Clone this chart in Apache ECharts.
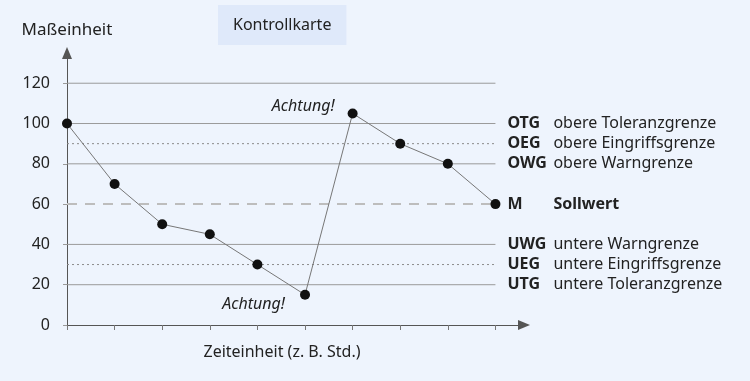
<!DOCTYPE html>
<html><head><meta charset="utf-8">
<script src="https://cdn.jsdelivr.net/npm/echarts@6/dist/echarts.min.js"></script>
<style>html,body{margin:0;padding:0;background:#eef4fd}#c{width:750px;height:381px}</style>
</head><body><div id="c"></div>
<script>
// ---- data ----
const timeIndex = [0, 1, 2, 3, 4, 5, 6, 7, 8, 9];
const measured = [100, 70, 50, 45, 30, 15, 105, 90, 80, 60];
const yTicks = [0, 20, 40, 60, 80, 100, 120];
const limitValues = [120, 100, 90, 80, 60, 40, 30, 20];
const limitCodes = ['', 'OTG', 'OEG', 'OWG', 'M', 'UWG', 'UEG', 'UTG'];
const limitNames = ['', 'obere Toleranzgrenze', 'obere Eingriffsgrenze', 'obere Warngrenze', 'Sollwert',
  'untere Warngrenze', 'untere Eingriffsgrenze', 'untere Toleranzgrenze'];
const limitKinds = ['solid', 'solid', 'dotted', 'solid', 'dashed', 'solid', 'dotted', 'solid'];
const warnText = 'Achtung!';
const chartTitle = 'Kontrollkarte';
const yName = 'Maßeinheit';
const xName = 'Zeiteinheit (z. B. Std.)';

const FONT = '"Noto Sans", "Open Sans", sans-serif';
const TXT = '#222';
const styleFor = {
  solid: { color: '#9a9a9a', width: 1, type: 'solid' },
  dotted: { color: '#8a8a8a', width: 1, type: [2, 3] },
  dashed: { color: '#bdbdbd', width: 2, type: [10, 8] }
};

const limitSeries = limitValues.map((v, i) => ({
  type: 'line',
  data: [[timeIndex[0], v], [timeIndex[timeIndex.length - 1], v]],
  symbol: 'none',
  silent: true,
  z: 1,
  lineStyle: styleFor[limitKinds[i]],
  endLabel: limitCodes[i] ? {
    show: true,
    distance: 12,
    formatter: () => '{a|' + limitCodes[i] + '}{' + (limitCodes[i] === 'M' ? 'c' : 'b') + '|' + limitNames[i] + '}',
    rich: {
      a: { fontFamily: FONT, fontSize: 16, fontWeight: 'bold', color: TXT, width: 46 },
      b: { fontFamily: FONT, fontSize: 16, color: TXT },
      c: { fontFamily: FONT, fontSize: 16, fontWeight: 'bold', color: TXT }
    }
  } : { show: false }
}));

const dataPoints = measured.map((v, i) => {
  const d = { value: [timeIndex[i], v] };
  if (i === 6) d.label = { show: true, position: 'left', distance: 13, offset: [0, -7], formatter: warnText };
  if (i === 5) d.label = { show: true, position: 'left', distance: 15, offset: [0, 10], formatter: warnText };
  return d;
});

const chart = echarts.init(document.getElementById('c'), null, { renderer: 'canvas' });
chart.setOption({
  backgroundColor: '#eef4fd',
  animation: false,
  title: [
    { text: chartTitle, left: 218, top: 5, padding: [12, 15], backgroundColor: '#dfe9fa',
      textStyle: { fontFamily: FONT, fontSize: 16, fontWeight: 'normal', color: TXT } },
    { text: xName, left: 282, top: 344, textAlign: 'center', padding: 0,
      textStyle: { fontFamily: FONT, fontSize: 16, fontWeight: 'normal', color: TXT } }
  ],
  grid: { left: 67, top: 53, width: 457, height: 272, containLabel: false },
  xAxis: {
    type: 'value', min: 0, max: 9.6,
    axisLine: { show: true, symbol: ['none', 'triangle'], symbolSize: [10, 12], lineStyle: { color: '#555', width: 1 } },
    axisTick: { show: true, customValues: timeIndex, length: 5, inside: false, lineStyle: { color: '#777' } },
    axisLabel: { show: false },
    splitLine: { show: false }
  },
  yAxis: {
    type: 'value', min: 0, max: 135,
    name: yName, nameLocation: 'end', nameGap: 14,
    nameTextStyle: { fontFamily: FONT, fontSize: 17, color: TXT, align: 'center' },
    axisLine: { show: true, symbol: ['none', 'triangle'], symbolSize: [10, 12], lineStyle: { color: '#555', width: 1 } },
    axisTick: { show: true, customValues: yTicks, length: 4, lineStyle: { color: '#9a9a9a' } },
    axisLabel: { show: true, customValues: yTicks, margin: 17, fontFamily: FONT, fontSize: 16, color: TXT },
    splitLine: { show: false }
  },
  series: limitSeries.concat([{
    type: 'line',
    data: dataPoints,
    z: 5,
    symbol: 'circle',
    symbolSize: 10,
    itemStyle: { color: '#111' },
    lineStyle: { color: '#777', width: 1 },
    label: { fontFamily: FONT, fontSize: 16, fontStyle: 'italic', color: TXT }
  }])
});
</script>
</body></html>
